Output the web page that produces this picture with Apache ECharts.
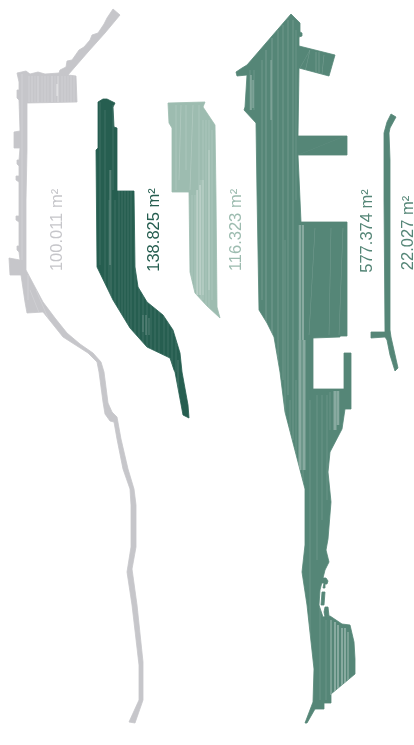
<!DOCTYPE html>
<html><head><meta charset="utf-8">
<style>html,body{margin:0;padding:0;background:#fff}#c{width:414px;height:745px}</style>
<script src="https://cdn.jsdelivr.net/npm/echarts@6/dist/echarts.min.js"></script>
</head><body><div id="c"></div>
<script>
// Parcel names, areas and outlines (x, y in map units)
const areaLabels = ['100.011 m²','138.825 m²','116.323 m²','577.374 m²','22.027 m²'];
const labelSpots = [[57,230],[154,230],[236,230],[367,231],[408,233]];

const greyOutline = [[113,9],[120,15],[105,33],[88,52],[68,75],[76,76],[77,102],[27,103],[27,132],[27,150],[26,200],[26,270],[35,287],[43,302],[55,318],[67,333],[80,344],[93,353],[101,362],[104,372],[108,403],[112,412],[117,417],[121,439],[128,469],[134,489],[136,505],[136,547],[132,569],[137,605],[143,662],[143,700],[135,723],[129,722],[139,700],[139,665],[132,605],[127,572],[131,547],[131,505],[130,489],[123,469],[117,439],[114,422],[110,421],[105,414],[103,402],[99,372],[97,362],[88,353],[63,337],[43,312],[27,313],[25,302],[21,275],[10,275],[9,258],[20,260],[19,252],[17,250],[17,246],[19,246],[19,222],[16,220],[16,216],[19,216],[19,182],[16,180],[16,176],[19,176],[19,166],[17,164],[17,160],[19,160],[20,148],[14,148],[14,132],[20,131],[19,100],[17,98],[17,90],[19,90],[19,82],[17,73],[26,71],[30,74],[38,72],[45,74],[59,73],[60,70],[66,67],[67,61],[72,60],[79,50],[84,47],[90,40],[92,35],[98,33],[104,24],[107,18]];
const darkOutline = [[98,102],[103,99],[107,99],[115,103],[113,107],[114,127],[117,128],[117,191],[134,191],[135,267],[138,287],[147,302],[163,315],[173,330],[180,353],[182,372],[188,405],[189,418],[183,415],[175,372],[174,370],[170,358],[147,347],[130,328],[113,300],[97,267],[96,150],[98,148]];
const paleOutline = [[168,103],[205,102],[203,107],[207,113],[215,125],[216,197],[217,307],[220,318],[207,306],[195,293],[190,272],[189,192],[172,192],[172,128],[169,123]];
const bigOutline = [[291,14],[300,23],[300,32],[302,33],[302,36],[299,37],[299,46],[335,55],[329,76],[299,68],[298,136],[347,136],[347,155],[298,155],[301,222],[347,222],[347,336],[340,336],[340,337],[313,338],[313,389],[344,389],[344,353],[351,353],[351,409],[345,409],[342,429],[330,452],[328,472],[331,502],[328,539],[326,550],[329,562],[325,570],[320,590],[319,605],[323,617],[330,616],[342,624],[350,625],[354,642],[355,659],[355,674],[331,694],[331,703],[324,703],[324,709],[315,709],[307,723],[305,723],[313,702],[314,669],[307,605],[302,572],[305,545],[305,489],[285,412],[280,372],[274,337],[267,323],[259,310],[257,193],[256,123],[244,110],[245,107],[247,75],[237,76],[236,72],[242,68],[247,65]];
const islandA = [[322,578],[326,578],[328,581],[327,584],[325,584],[325,588],[323,588],[324,583],[321,583]];
const islandB = [[322,592],[325,592],[324,605],[321,605]];
const islandC = [[325,607],[328,607],[329,616],[325,617],[324,612]];
const slimOutline = [[391,114],[396,117],[390,128],[389,133],[390,160],[390,240],[390,330],[391,337],[398,368],[395,371],[390,355],[387,340],[385,337],[371,338],[371,332],[385,332],[384,200],[384,133],[387,122]];

// Lighter streaks: [x, top, bottom, width, optional x at bottom]
const greyStreaks = [[29,76,102,1],[32,76,102,1.2],[35,76,102,.8],[38,76,102,1.5],[42,76,102,.8],[45,76,102,1],[48,76,102,.8],[52,76,102,1.5],[55,76,102,.8],[58,76,102,2],[62,76,102,1],[65,76,102,1],[68,76,102,.8],[71,76,102,1],[74,76,102,.8],[22,74,260,1],[30,290,315,.8,40],[36,290,318,.8,48],[28,275,300,1]];
const greyBands = [[57,84,96,2]];
const darkStreaks = [[100,102,265,.6],[105,110,300,.6],[109,200,330,.6],[111,170,345,.8],[113,105,190,.6],[115,200,340,.6],[119,191,350,.6],[122,191,340,.6],[125,191,345,.6],[128,191,350,.6],[131,191,350,.6],[135,230,360,.6],[139,280,360,.6],[143,290,365,.6],[147,295,365,.6],[151,305,365,.6],[155,305,365,.6],[159,310,365,.6],[164,315,365,.6],[168,320,365,.6],[172,330,365,.6],[176,340,372,.6]];
const darkBands = [[110,170,265,1],[143,315,332,.8],[146,315,335,1],[149,318,335,.8],[178,360,415,.6]];
const paleStreaks = [[176,105,190,.8],[181,105,180,.8,179],[186,105,170,.8],[193,105,190,.8,190],[199,105,190,.8],[203,120,300,.8],[206,120,310,.8],[209,120,310,.8],[212,130,300,.8],[192,195,280,.8],[195,195,290,.8],[198,190,295,1],[201,180,300,1]];
const paleBands = [[197,190,295,1.5],[200,185,295,1.5],[203,180,295,1],[209,150,290,1]];
const bigStreaks = [[250,70,110,.6],[254,70,110,.6],[262,60,300,.8],[266,50,330,1],[272,38,340,1],[278,30,365,.8],[283,25,380,.8],[288,20,395,.8],[293,20,440,.8],[296,30,200,.6],[285,240,420,.6],[290,400,480,.6],[296,380,560,.6],[303,470,560,.6],[310,400,700,.6],[317,395,560,.6],[322,395,520,.6],[327,395,500,.6],[330,392,430,.6],[326,620,700,.6],[320,600,700,.6],[315,228,335,.5,309],[331,228,335,.5,329],[343,228,335,.5,339],[310,50,72,.5,305],[316,52,72,.8],[319,52,73,.8],[324,55,74,.6,322],[298,155,136,.4,345],[300,68,50,.4,310]];
const bigBands = [[251,75,110,1.5],[253,80,108,1.2],[300,225,340,2.5],[303,225,340,2],[300,340,470,3],[304,340,470,3],[335,391,430,3],[338,391,425,2.5],[331,620,695,1.5],[335,622,695,2],[338,625,695,2],[342,628,690,2],[345,628,685,2],[348,632,680,1.5],[271,60,120,1]];

const parcels = [
  {name:'grey', color:'#c6c6ca', parts:[greyOutline], streaks:greyStreaks, bands:greyBands},
  {name:'dark', color:'#265e50', parts:[darkOutline], streaks:darkStreaks, bands:darkBands},
  {name:'pale', color:'#9dbcb0', parts:[paleOutline], streaks:paleStreaks, bands:paleBands},
  {name:'big', color:'#558677', parts:[bigOutline,islandA,islandB,islandC], streaks:bigStreaks, bands:bigBands},
  {name:'slim', color:'#558677', parts:[slimOutline], streaks:[], bands:[]}
];

function poly(api, pts){ return pts.map(p => api.coord(p)); }
function streak(api, s, opacity){
  const x2 = s[4] === undefined ? s[0] : s[4], w = s[3] / 2;
  return {type:'polygon', shape:{points:poly(api,[[s[0]-w,s[1]],[s[0]+w,s[1]],[x2+w,s[2]],[x2-w,s[2]]])},
    style:{fill:'#fff', opacity:opacity}};
}
function renderParcel(params, api){
  const p = parcels[api.value(0)];
  const children = [];
  p.parts.forEach((part, i) => {
    const points = poly(api, part);
    children.push({type:'polygon', shape:{points}, style:{fill:p.color, stroke:p.color, lineWidth:.8, lineJoin:'round'}});
    if (i === 0 && (p.streaks.length || p.bands.length)) {
      children.push({type:'group', clipPath:{type:'polygon', shape:{points}},
        children:[...p.streaks.map(s => streak(api, s, .2)), ...p.bands.map(s => streak(api, s, .3))]});
    }
  });
  return {type:'group', children};
}
function renderLabel(params, api){
  const i = api.value(0), c = api.coord(labelSpots[i]);
  return {type:'text', x:c[0], y:c[1], rotation:Math.PI/2,
    style:{text:areaLabels[i], fill:parcels[i].color, fontFamily:'"Liberation Sans", Arial, sans-serif', fontSize:16.5, textAlign:'center', textVerticalAlign:'middle'}};
}
const chart = echarts.init(document.getElementById('c'), null, {renderer:'canvas'});
chart.setOption({
  animation:false, backgroundColor:'#fff',
  textStyle:{fontFamily:'"Liberation Sans", Arial, sans-serif'},
  grid:{left:0,right:0,top:0,bottom:0},
  xAxis:{type:'value',min:0,max:414,show:false},
  yAxis:{type:'value',min:0,max:745,inverse:true,show:false},
  tooltip:{show:false},
  series:[
    {type:'custom', coordinateSystem:'cartesian2d', clip:false, silent:true, renderItem:renderParcel, encode:{x:-1,y:-1}, data:parcels.map((p,i)=>[i])},
    {type:'custom', coordinateSystem:'cartesian2d', clip:false, silent:true, renderItem:renderLabel, encode:{x:-1,y:-1}, data:areaLabels.map((t,i)=>[i])}
  ]
});
</script></body></html>
